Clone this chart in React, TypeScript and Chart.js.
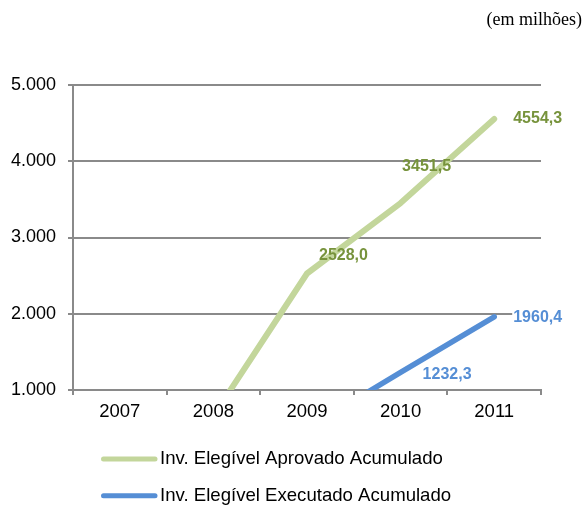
import React, { useEffect, useRef } from 'react';
import { Chart, registerables } from 'chart.js';

Chart.register(...registerables);

// ---- data ----
const categories = ['2007', '2008', '2009', '2010', '2011'];
const approved: (number | null)[] = [null, 660, 2528.0, 3451.5, 4554.3];
const executed: (number | null)[] = [null, null, 490, 1232.3, 1960.4];
const seriesNames = ['Inv. Elegível Aprovado Acumulado', 'Inv. Elegível Executado Acumulado'];
const yTicks = [1000, 2000, 3000, 4000, 5000];
const unitNote = '(em milhões)';

// ---- style ----
const SANS = '"Liberation Sans", Arial, sans-serif';
const SERIF = '"Liberation Serif", "Times New Roman", serif';
const LINE_COLORS = ['#C3D69B', '#558ED5'];
const LABEL_COLORS = ['#77933C', '#558ED5'];
const LINE_WIDTHS = [6, 5.5];
const AXIS_COLOR = '#8a8a8a';
// label offsets (left edge, vertical middle) relative to each point, and whether a white box sits behind
const LABEL_OFFSETS: ([number, number, boolean] | null)[][] = [
  [null, null, [12, -18, false], [1.5, -36, false], [19, 0, false]],
  [null, null, null, [22, 2, false], [19, 1, true]],
];

const fmtDec = (v: number) => v.toFixed(1).replace('.', ',');
const fmtThousands = (v: number) => {
  const s = Math.round(v).toString();
  return s.replace(/\B(?=(\d{3})+(?!\d))/g, '.');
};

const valueLabels = {
  id: 'valueLabels',
  afterDatasetsDraw(chart: any) {
    const ctx = chart.ctx;
    chart.data.datasets.forEach((ds: any, di: number) => {
      const meta = chart.getDatasetMeta(di);
      meta.data.forEach((pt: any, i: number) => {
        const off = LABEL_OFFSETS[di][i];
        const v = ds.data[i];
        if (!off || v == null) return;
        ctx.save();
        ctx.font = `bold 16px ${SANS}`;
        const txt = fmtDec(v);
        const x = pt.x + off[0];
        const y = pt.y + off[1];
        if (off[2]) {
          const w = ctx.measureText(txt).width;
          ctx.fillStyle = '#fff';
          ctx.fillRect(x - 1, y - 8, w + 2, 16);
        }
        ctx.fillStyle = LABEL_COLORS[di];
        ctx.textAlign = 'left';
        ctx.textBaseline = 'middle';
        ctx.fillText(txt, x, y);
        ctx.restore();
      });
    });
  },
};

const legendAndNote = {
  id: 'legendAndNote',
  afterDraw(chart: any) {
    const ctx = chart.ctx;
    ctx.save();
    // unit note
    ctx.font = `18px ${SERIF}`;
    ctx.fillStyle = '#000';
    ctx.textAlign = 'right';
    ctx.textBaseline = 'alphabetic';
    ctx.fillText(unitNote, 582, 25);
    // legend
    chart.data.datasets.forEach((ds: any, di: number) => {
      const y = 459 + di * 36.7;
      ctx.strokeStyle = ds.borderColor;
      ctx.lineWidth = 5;
      ctx.lineCap = 'round';
      ctx.beginPath();
      ctx.moveTo(103.5, y);
      ctx.lineTo(155, y);
      ctx.stroke();
      ctx.font = `18.6px ${SANS}`;
      ctx.fillStyle = '#000';
      ctx.textAlign = 'left';
      ctx.textBaseline = 'middle';
      ctx.fillText(ds.label, 160, y);
    });
    ctx.restore();
  },
};

export default function App() {
  const ref = useRef<HTMLCanvasElement | null>(null);

  useEffect(() => {
    document.body.style.margin = '0';
    if (!ref.current) return;
    const chart = new Chart(ref.current, {
      type: 'line',
      data: {
        labels: categories,
        datasets: [
          {
            label: seriesNames[0],
            data: approved,
            borderColor: LINE_COLORS[0],
            backgroundColor: LINE_COLORS[0],
            borderWidth: LINE_WIDTHS[0],
            pointRadius: 0,
            tension: 0,
            borderCapStyle: 'round',
            borderJoinStyle: 'round',
            clip: 0,
          },
          {
            label: seriesNames[1],
            data: executed,
            borderColor: LINE_COLORS[1],
            backgroundColor: LINE_COLORS[1],
            borderWidth: LINE_WIDTHS[1],
            pointRadius: 0,
            tension: 0,
            borderCapStyle: 'round',
            borderJoinStyle: 'round',
            clip: 0,
          },
        ],
      },
      options: {
        animation: false,
        responsive: false,
        events: [],
        layout: { padding: { top: 85, right: 44, bottom: 76, left: 0 } },
        plugins: {
          legend: { display: false },
          title: { display: false },
          tooltip: { enabled: false },
        },
        scales: {
          x: {
            offset: true,
            grid: {
              offset: true,
              drawOnChartArea: false,
              drawTicks: true,
              tickLength: 5,
              color: AXIS_COLOR,
              lineWidth: 2,
            },
            border: { display: true, color: AXIS_COLOR, width: 2 },
            ticks: { color: '#000', font: { family: SANS, size: 18.5 }, padding: 6, maxRotation: 0 },
            afterFit: (s: any) => {
              s.height = 40;
            },
          },
          y: {
            min: 1000,
            max: 5000,
            afterBuildTicks: (s: any) => {
              s.ticks = yTicks.map((v) => ({ value: v }));
            },
            grid: { color: AXIS_COLOR, lineWidth: 2, tickLength: 5 },
            border: { display: true, color: AXIS_COLOR, width: 2 },
            ticks: {
              color: '#000',
              font: { family: SANS, size: 18 },
              padding: 12,
              callback: (v: any) => fmtThousands(Number(v)),
            },
            afterFit: (s: any) => {
              s.width = 73;
            },
          },
        },
      },
      plugins: [valueLabels, legendAndNote],
    } as any);
    return () => chart.destroy();
  }, []);

  return (
    <div style={{ position: 'absolute', left: 0, top: 0, width: 585, height: 506 }}>
      <canvas ref={ref} width={585} height={506} style={{ display: 'block', width: 585, height: 506 }} />
    </div>
  );
}
